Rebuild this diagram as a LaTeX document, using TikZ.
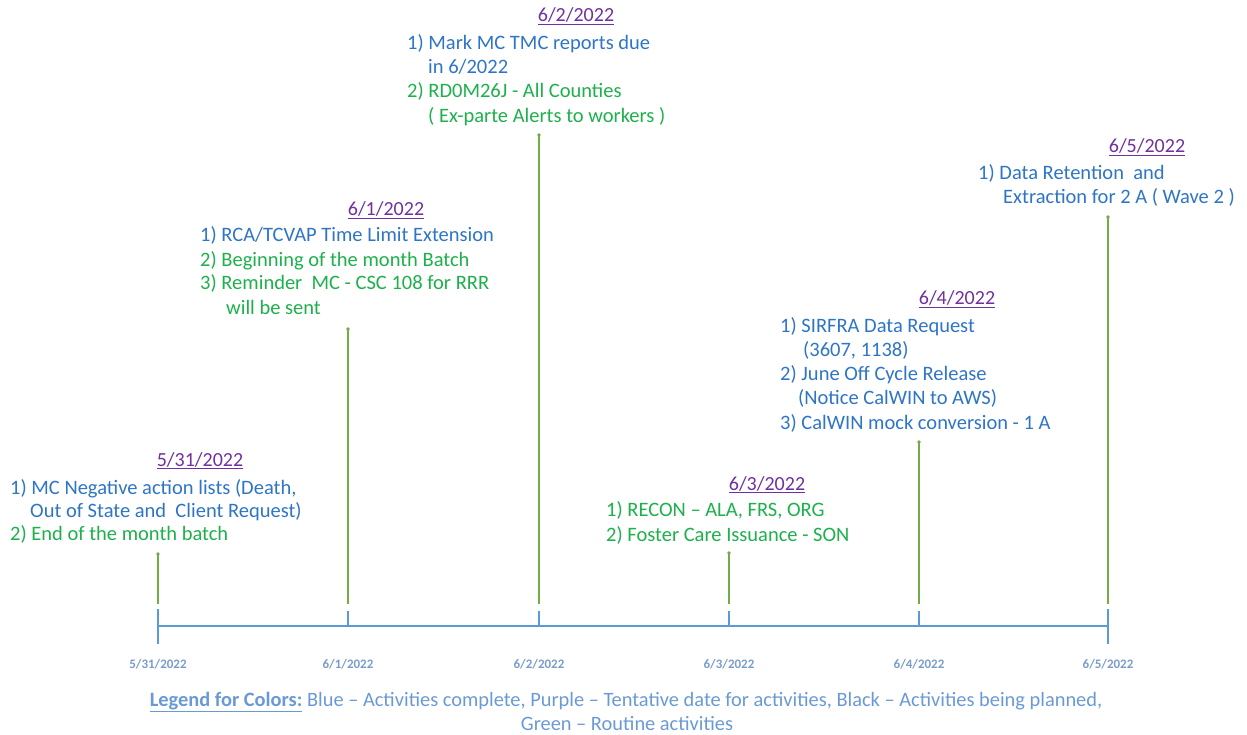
\documentclass[tikz,border=0pt]{standalone}
\usepackage{fontspec}
\setmainfont{Carlito}
\definecolor{cblue}{HTML}{2E75C6}
\definecolor{cgreen}{HTML}{1DB04B}
\definecolor{cpurple}{HTML}{7030A0}
\definecolor{stemgreen}{HTML}{70AD47}
\definecolor{axisblue}{HTML}{5B9BD5}
\definecolor{ticklbl}{HTML}{7A9CCB}
\definecolor{legblue}{HTML}{6A9AD6}
\tikzset{
  txt/.style={anchor=base west, inner sep=0pt, font=\fontsize{20.5}{24}\selectfont},
  datelbl/.style={anchor=base, inner sep=0pt, text=cpurple, font=\fontsize{20}{24}\selectfont},
  stem/.style={draw=stemgreen, line width=1.2pt},
  stemdot/.style={fill=stemgreen, draw=none},
  axisline/.style={draw=axisblue, line width=1.3pt},
  ticklabel/.style={anchor=base, inner sep=0pt, text=ticklbl, font=\fontsize{13}{15}\selectfont\bfseries},
  legend/.style={anchor=base, inner sep=0pt, text=legblue, font=\fontsize{20.4}{24}\selectfont}
}
\begin{document}
\begin{tikzpicture}[x=1pt,y=-1pt]
\useasboundingbox (0,0) rectangle (1247,735);
% axis
\coordinate (a1) at (158,626);
\coordinate (a2) at (348,626);
\coordinate (a3) at (539,626);
\coordinate (a4) at (729,626);
\coordinate (a5) at (919,626);
\coordinate (a6) at (1108,626);
\draw[axisline] (a1) -- (a6);
\draw[axisline] ([yshift=-18]a1) -- ([yshift=17]a1);
\draw[axisline] ([yshift=-18]a6) -- ([yshift=17]a6);
\foreach \i in {2,3,4,5} {\draw[axisline] (a\i) -- ([yshift=15]a\i);}
% tick labels
\node[ticklabel] (l1) at (158,668) {5/31/2022};
\node[ticklabel] (l2) at (348,668) {6/1/2022};
\node[ticklabel] (l3) at (539,668) {6/2/2022};
\node[ticklabel] (l4) at (729,668) {6/3/2022};
\node[ticklabel] (l5) at (919,668) {6/4/2022};
\node[ticklabel] (l6) at (1108,668) {6/5/2022};
% stems
\coordinate (b1) at (158,604); \coordinate (s1) at (158,554);
\coordinate (b2) at (348,604); \coordinate (s2) at (348,329);
\coordinate (b3) at (539,604); \coordinate (s3) at (539,135);
\coordinate (b4) at (729,604); \coordinate (s4) at (729,553);
\coordinate (b5) at (919,604); \coordinate (s5) at (919,442);
\coordinate (b6) at (1108,604); \coordinate (s6) at (1108,217);
\foreach \i in {1,...,6} {
  \draw[stem] (b\i) -- (s\i);
  \fill[stemdot] (s\i) circle (1.8);
}
% 5/31
\node[datelbl] (d1) at (200,466) {\underline{5/31/2022}};
\node[txt, text=cblue] (e1a) at (10,494) {1) MC Negative action lists (Death,};
\node[txt, text=cblue] (e1b) at (30,517) {Out of State and\ \ Client Request)};
\node[txt, text=cgreen] (e1c) at (10,540) {2) End of the month batch};
% 6/1
\node[datelbl] (d2) at (386,216) {\underline{6/1/2022}};
\node[txt, text=cblue] (e2a) at (200,242) {1) RCA/TCVAP Time Limit Extension};
\node[txt, text=cgreen] (e2b) at (200,266) {2) Beginning of the month Batch};
\node[txt, text=cgreen] (e2c) at (200,290) {3) Reminder\ \ MC - CSC 108 for RRR};
\node[txt, text=cgreen] (e2d) at (226,314) {will be sent};
% 6/2
\node[datelbl] (d3) at (576,22) {\underline{6/2/2022}};
\node[txt, text=cblue] (e3a) at (407,50) {1) Mark MC TMC reports due};
\node[txt, text=cblue] (e3b) at (428,74) {in 6/2022};
\node[txt, text=cgreen] (e3c) at (407,98) {2) RD0M26J - All Counties};
\node[txt, text=cgreen] (e3d) at (428,123) {( Ex-parte Alerts to workers )};
% 6/3
\node[datelbl] (d4) at (767,490) {\underline{6/3/2022}};
\node[txt, text=cgreen] (e4a) at (606,516) {1) RECON -- ALA, FRS, ORG};
\node[txt, text=cgreen] (e4b) at (606,541) {2) Foster Care Issuance - SON};
% 6/4
\node[datelbl] (d5) at (957,305) {\underline{6/4/2022}};
\node[txt, text=cblue] (e5a) at (780,332) {1) SIRFRA Data Request};
\node[txt, text=cblue] (e5b) at (803,356) {(3607, 1138)};
\node[txt, text=cblue] (e5c) at (780,380) {2) June Off Cycle Release};
\node[txt, text=cblue] (e5d) at (798,404) {(Notice CalWIN to AWS)};
\node[txt, text=cblue] (e5e) at (780,429) {3) CalWIN mock conversion - 1 A};
% 6/5
\node[datelbl] (d6) at (1147,153) {\underline{6/5/2022}};
\node[txt, text=cblue] (e6a) at (978,180) {1) Data Retention\ \ and};
\node[txt, text=cblue] (e6b) at (1003,204) {Extraction for 2 A ( Wave 2 )};
% legend
\node[legend] (g1) at (626,706) {\underline{\bfseries Legend for Colors:} Blue -- Activities complete, Purple -- Tentative date for activities, Black -- Activities being planned,};
\node[legend] (g2) at (627,730) {Green -- Routine activities};
\end{tikzpicture}
\end{document}
